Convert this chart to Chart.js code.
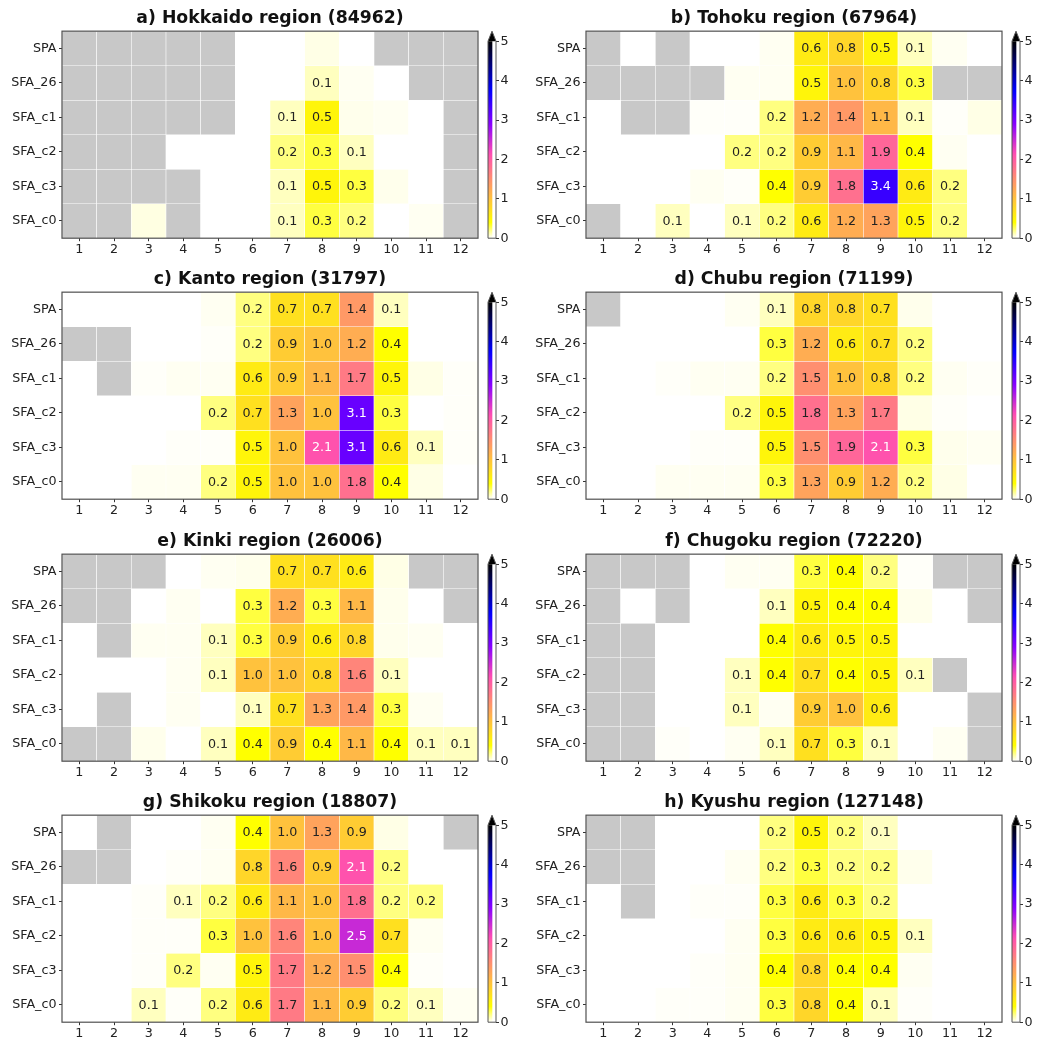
<!DOCTYPE html>
<html><head><meta charset="utf-8">
<script src="https://cdn.jsdelivr.net/npm/chart.js@4.4.1/dist/chart.umd.min.js"></script>
<style>
html,body{margin:0;padding:0;background:#fff;overflow:hidden;width:1037px;height:1043px;}
.box{position:absolute;}
canvas{display:block;}
</style></head><body>
<script>
// ---------------- data ----------------
const months = ['1','2','3','4','5','6','7','8','9','10','11','12'];
const rowNames = ['SPA','SFA_26','SFA_c1','SFA_c2','SFA_c3','SFA_c0'];
const panelTitles = [
  'a) Hokkaido region (84962)', 'b) Tohoku region (67964)',
  'c) Kanto region (31797)', 'd) Chubu region (71199)',
  'e) Kinki region (26006)', 'f) Chugoku region (72220)',
  'g) Shikoku region (18807)', 'h) Kyushu region (127148)'
];
const cbarTicks = [0, 1, 2, 3, 4, 5];
// null = no data (grey cell)
const hokkaido = [
  [null,null,null,null,null,0,0,0.04,0,null,null,null],
  [null,null,null,null,null,0,0,0.1,0.02,0,null,null],
  [null,null,null,null,null,0,0.1,0.5,0.03,0.02,0,null],
  [null,null,null,0,0,0,0.2,0.3,0.1,0,0,null],
  [null,null,null,null,0,0,0.1,0.5,0.3,0.03,0,null],
  [null,null,0.045,null,0,0,0.1,0.3,0.2,0,0.02,null]
];
const tohoku = [
  [null,0,null,0,0,0.02,0.6,0.8,0.5,0.1,0.02,0],
  [null,null,null,null,0.02,0.02,0.5,1.0,0.8,0.3,null,null],
  [0,null,null,0.01,0.01,0.2,1.2,1.4,1.1,0.1,0.01,0.04],
  [0,0,0,0,0.2,0.2,0.9,1.1,1.9,0.4,0.02,0],
  [0,0,0,0.02,0.01,0.4,0.9,1.8,3.4,0.6,0.2,0],
  [null,0,0.1,0,0.1,0.2,0.6,1.2,1.3,0.5,0.2,0]
];
const kanto = [
  [0,0,0,0,0.02,0.2,0.7,0.7,1.4,0.1,0,0],
  [null,null,0,0,0.01,0.2,0.9,1.0,1.2,0.4,0,0],
  [0,null,0.01,0.02,0.02,0.6,0.9,1.1,1.7,0.5,0.04,0.01],
  [0,0,0,0,0.2,0.7,1.3,1.0,3.1,0.3,0,0.01],
  [0,0,0,0.01,0.01,0.5,1.0,2.1,3.1,0.6,0.1,0.01],
  [0,0,0.02,0.02,0.2,0.5,1.0,1.0,1.8,0.4,0.04,0]
];
const chubu = [
  [null,0,0,0,0.02,0.1,0.8,0.8,0.7,0.03,0,0],
  [0,0,0,0,0,0.3,1.2,0.6,0.7,0.2,0,0],
  [0,0,0.01,0.02,0.02,0.2,1.5,1.0,0.8,0.2,0.02,0.01],
  [0,0,0,0,0.2,0.5,1.8,1.3,1.7,0.04,0.01,0],
  [0,0,0,0.01,0.01,0.5,1.5,1.9,2.1,0.3,0.03,0.02],
  [0,0,0.02,0.02,0.02,0.3,1.3,0.9,1.2,0.2,0.04,0]
];
const kinki = [
  [null,null,null,0,0.02,0.03,0.7,0.7,0.6,0.04,null,null],
  [null,null,0,0.02,0,0.3,1.2,0.3,1.1,0.03,0,null],
  [0,null,0.02,0.02,0.1,0.3,0.9,0.6,0.8,0.03,0.02,0],
  [0,0,0,0.02,0.1,1.0,1.0,0.8,1.6,0.1,0,0],
  [0,null,0,0.02,0,0.1,0.7,1.3,1.4,0.3,0.02,0],
  [null,null,0.03,0,0.1,0.4,0.9,0.4,1.1,0.4,0.1,0.1]
];
const chugoku = [
  [null,null,null,0,0.02,0.02,0.3,0.4,0.2,0.01,null,null],
  [null,0,null,0,0,0.1,0.5,0.4,0.4,0.03,0,null],
  [null,null,0,0,0,0.4,0.6,0.5,0.5,0,0,0],
  [null,null,0,0,0.1,0.4,0.7,0.4,0.5,0.1,null,0],
  [null,null,0,0,0.1,0.02,0.9,1.0,0.6,0,0,null],
  [null,null,0.01,0,0.02,0.1,0.7,0.3,0.1,0,0.02,null]
];
const shikoku = [
  [0,null,0,0,0.02,0.4,1.0,1.3,0.9,0.04,0,null],
  [null,null,0,0.01,0.02,0.8,1.6,0.9,2.1,0.2,0,0],
  [0,0,0.01,0.1,0.2,0.6,1.1,1.0,1.8,0.2,0.2,0],
  [0,0,0.01,0.01,0.3,1.0,1.6,1.0,2.5,0.7,0.02,0],
  [0,0,0.01,0.2,0.02,0.5,1.7,1.2,1.5,0.4,0.01,0],
  [0,0,0.1,0.01,0.2,0.6,1.7,1.1,0.9,0.2,0.1,0.02]
];
const kyushu = [
  [null,null,0,0,0,0.2,0.5,0.2,0.1,0,0,0],
  [null,null,0,0,0.02,0.2,0.3,0.2,0.2,0.03,0,0],
  [0,null,0,0.01,0.01,0.3,0.6,0.3,0.2,0,0,0],
  [0,0,0,0,0.02,0.3,0.6,0.6,0.5,0.1,0,0],
  [0,0,0,0.01,0.02,0.4,0.8,0.4,0.4,0.02,0,0],
  [0,0,0.01,0.01,0.02,0.3,0.8,0.4,0.1,0.01,0,0]
];
const panelValues = [hokkaido, tohoku, kanto, chubu, kinki, chugoku, shikoku, kyushu];

// ---------------- styling ----------------
const FONT = 'DejaVu Sans';
const GREY = '#c8c8c8';
const VMAX = 5;
const colLeft = [0, 524];
const rowTop = [0, 261, 523, 784];
const cbLeft = [486, 1010];

function cmap(v) { // gnuplot2 reversed
  const x = 1 - Math.min(Math.max(v / VMAX, 0), 1);
  const cl = t => Math.round(255 * Math.min(Math.max(t, 0), 1));
  const r = x / 0.32 - 0.78125;
  const g = 2 * x - 0.84;
  const b = x < 0.25 ? 4 * x : (x < 0.92 ? -2 * x + 1.84 : x / 0.08 - 11.5);
  return 'rgb(' + cl(r) + ',' + cl(g) + ',' + cl(b) + ')';
}

const cellPlugin = {
  id: 'cells',
  afterDatasetsDraw(chart) {
    const ctx = chart.ctx;
    ctx.save();
    ctx.font = '12.7px "' + FONT + '"';
    ctx.textAlign = 'center';
    ctx.textBaseline = 'middle';
    chart.data.datasets.forEach((ds, i) => {
      chart.getDatasetMeta(i).data.forEach((bar, j) => {
        const v = ds.cellValues[j];
        if (v === null || v < 0.05) return;
        ctx.fillStyle = v >= 2 ? '#ffffff' : '#222222';
        ctx.fillText(v.toFixed(1), bar.x, (bar.y + bar.base) / 2 + 0.5);
      });
    });
    const a = chart.chartArea;
    ctx.strokeStyle = '#505050';
    ctx.lineWidth = 1.2;
    ctx.strokeRect(a.left, a.top, a.right - a.left, a.bottom - a.top);
    ctx.restore();
  }
};

const cbarPlugin = {
  id: 'cbarArrow',
  afterDatasetsDraw(chart) {
    const ctx = chart.ctx, a = chart.chartArea;
    const tip = a.top - 10, cx = (a.left + a.right) / 2;
    ctx.save();
    ctx.fillStyle = cmap(VMAX);
    ctx.beginPath();
    ctx.moveTo(a.left, a.top); ctx.lineTo(cx, tip); ctx.lineTo(a.right, a.top); ctx.closePath();
    ctx.fill();
    ctx.strokeStyle = '#555';
    ctx.lineWidth = 1;
    ctx.beginPath();
    ctx.moveTo(a.left, a.bottom); ctx.lineTo(a.left, a.top); ctx.lineTo(cx, tip);
    ctx.lineTo(a.right, a.top); ctx.lineTo(a.right, a.bottom); ctx.closePath();
    ctx.stroke();
    ctx.restore();
  }
};

function addCanvas(left, top, w, h) {
  const d = document.createElement('div');
  d.className = 'box';
  d.style.left = left + 'px'; d.style.top = top + 'px';
  d.style.width = w + 'px'; d.style.height = h + 'px';
  const c = document.createElement('canvas');
  c.width = w; c.height = h;
  c.style.width = w + 'px'; c.style.height = h + 'px';
  d.appendChild(c);
  document.body.appendChild(d);
  return c;
}

const tickFont = { family: FONT, size: 12.7 };

function makePanel(k) {
  const col = k % 2, row = Math.floor(k / 2);
  const values = panelValues[k];
  const canvas = addCanvas(colLeft[col], rowTop[row], 480, 260);
  const datasets = rowNames.map((name, r) => ({
    label: name,
    data: months.map(() => [r - 0.5, r + 0.5]),
    cellValues: values[r],
    backgroundColor: values[r].map(v => v === null ? GREY : cmap(v)),
    borderColor: 'rgba(255,255,255,0.8)',
    borderWidth: 0.6,
    borderSkipped: false,
    grouped: false,
    barPercentage: 1,
    categoryPercentage: 1
  }));
  new Chart(canvas, {
    type: 'bar',
    data: { labels: months, datasets },
    options: {
      responsive: false,
      animation: false,
      layout: { padding: { left: 0, right: 2, top: 0, bottom: 0 } },
      plugins: {
        legend: { display: false },
        tooltip: { enabled: false },
        title: {
          display: true, text: panelTitles[k], fullSize: false,
          font: { family: FONT, size: 17.3, weight: 'bold', lineHeight: 1.2 }, color: '#111',
          padding: { top: 8, bottom: 2.4 }
        }
      },
      scales: {
        x: {
          type: 'category', offset: true,
          grid: { offset: false, drawOnChartArea: false, drawTicks: true, tickLength: 3, color: '#333' },
          border: { display: false },
          ticks: { font: tickFont, color: '#222', padding: 1, maxRotation: 0, autoSkip: false },
          afterFit: s => { s.height = 21.8; }
        },
        y: {
          type: 'linear', min: -0.5, max: 5.5, reverse: true,
          afterBuildTicks: axis => { axis.ticks = rowNames.map((_, i) => ({ value: i })); },
          grid: { drawOnChartArea: false, drawTicks: true, tickLength: 3, color: '#333' },
          border: { display: false },
          ticks: { font: tickFont, color: '#222', padding: 2.5, autoSkip: false, callback: v => rowNames[v] },
          afterFit: s => { s.width = 62; }
        }
      }
    },
    plugins: [cellPlugin]
  });

  // colorbar
  const cb = addCanvas(cbLeft[col], rowTop[row], 45, 260);
  new Chart(cb, {
    type: 'bar',
    data: {
      labels: [''],
      datasets: [{
        data: [[0, VMAX]],
        borderWidth: 0,
        barPercentage: 1,
        categoryPercentage: 1,
        backgroundColor: (ctx) => {
          const a = ctx.chart.chartArea;
          if (!a) return '#ffffff';
          const g = ctx.chart.ctx.createLinearGradient(0, a.bottom, 0, a.top);
          for (let i = 0; i <= 50; i++) g.addColorStop(i / 50, cmap(VMAX * i / 50));
          return g;
        }
      }]
    },
    options: {
      responsive: false,
      animation: false,
      layout: { padding: { left: 2, right: 0, top: 41.2, bottom: 21.8 } },
      plugins: { legend: { display: false }, tooltip: { enabled: false } },
      scales: {
        x: { display: false, offset: false },
        y: {
          position: 'right', min: 0, max: VMAX,
          afterBuildTicks: axis => { axis.ticks = cbarTicks.map(v => ({ value: v })); },
          grid: { drawOnChartArea: false, drawTicks: true, tickLength: 3, color: '#333' },
          border: { display: false },
          ticks: { font: tickFont, color: '#222', padding: 1.5 },
          afterFit: s => { s.width = 35; }
        }
      }
    },
    plugins: [cbarPlugin]
  });
}

for (let k = 0; k < 8; k++) makePanel(k);
</script>
</body></html>
